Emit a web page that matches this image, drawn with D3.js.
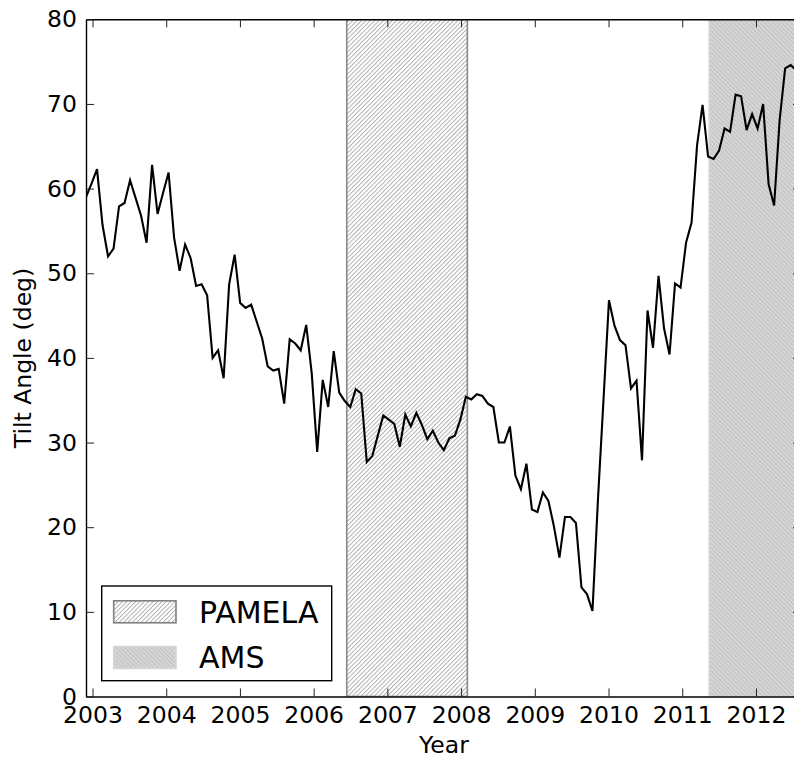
<!DOCTYPE html>
<html>
<head>
<meta charset="utf-8">
<script src="https://cdn.jsdelivr.net/npm/d3@7"></script>
<style>
  body { margin: 0; background: #fff; }
  svg { font-family: 'DejaVu Sans', sans-serif; display: block; }
</style>
</head>
<body>
<div id="chart"></div>
<script>
// tilt angle per Carrington rotation, starting Dec 2002
var startYear = 2002.912;
var rotationYears = 27.2753 / 365.25;
var tilt = [
    59.0, 60.6, 62.3, 55.7, 52.0, 52.9, 57.9, 58.3, 61.0, 58.9,
    56.8, 53.6, 62.8, 57.0, 59.5, 61.9, 54.2, 50.3, 53.4, 51.8,
    48.5, 48.7, 47.4, 40.0, 40.9, 37.6, 48.7, 52.2, 46.5, 45.9,
    46.3, 44.3, 42.3, 39.0, 38.5, 38.7, 34.6, 42.2, 41.7, 40.9,
    43.9, 38.2, 28.9, 37.4, 34.2, 40.8, 35.9, 34.9, 34.2, 36.3,
    35.8, 27.7, 28.4, 30.8, 33.2, 32.7, 32.2, 29.5, 33.3, 31.9,
    33.5, 32.1, 30.4, 31.4, 30.0, 29.1, 30.5, 30.8, 32.7, 35.4,
    35.1, 35.7, 35.5, 34.6, 34.2, 30.0, 30.0, 31.9, 26.1, 24.5,
    27.5, 22.1, 21.8, 24.1, 23.1, 20.1, 16.4, 21.2, 21.2, 20.5,
    12.9, 12.1, 10.1, 23.3, 35.0, 46.8, 43.8, 42.1, 41.5, 36.4,
    37.3, 27.9, 45.6, 41.2, 49.7, 43.5, 40.4, 48.8, 48.3, 53.6,
    56.0, 65.1, 69.9, 63.8, 63.5, 64.5, 67.1, 66.7, 71.1, 70.9,
    66.9, 68.8, 67.1, 70.0, 60.5, 58.0, 68.1, 74.2, 74.6, 74.0
];

// missions shown as shaded periods
var missionNames = ['PAMELA', 'AMS'];
var missionStart = [2006.449, 2011.365];
var missionEnd = [2008.085, 2012.611];

var yearTicks = [2003, 2004, 2005, 2006, 2007, 2008, 2009, 2010, 2011, 2012];
var angleTicks = [0, 10, 20, 30, 40, 50, 60, 70, 80];

var W = 794, H = 758;
var dim = {l: 86, r: 801, t: 19.3, b: 696.5};

var svg = d3.select('#chart').append('svg')
    .attr('width', W)
    .attr('height', H);

// hatch patterns
var defs = svg.append('defs');
function hatch(id, bg, fg, angle) {
    var p = defs.append('pattern')
        .attr('id', id)
        .attr('patternUnits', 'userSpaceOnUse')
        .attr('width', 3.1).attr('height', 3.1)
        .attr('patternTransform', 'rotate(' + angle + ')');
    p.append('rect').attr('width', 3.1).attr('height', 3.1).attr('fill', bg);
    p.append('line')
        .attr('x1', 0.5).attr('y1', 0).attr('x2', 0.5).attr('y2', 3.1)
        .attr('stroke', fg).attr('stroke-width', 0.8);
}
hatch('hatchP', '#ffffff', '#a0a0a0', 45);
hatch('hatchA', '#d6d6d6', '#bcbcbc', -45);
var fills = ['url(#hatchP)', 'url(#hatchA)'];
var edges = ['#888888', '#d6d6d6'];

defs.append('clipPath').attr('id', 'plotClip')
    .append('rect')
    .attr('x', dim.l).attr('y', dim.t)
    .attr('width', dim.r - dim.l).attr('height', dim.b - dim.t);

var x = d3.scaleLinear().domain([2002.9118, 2012.611]).range([dim.l, dim.r]);
var y = d3.scaleLinear().domain([0, 80]).range([dim.b, dim.t]);

var plot = svg.append('g').attr('clip-path', 'url(#plotClip)');

// mission bands
plot.selectAll('.band').data(missionNames).enter()
    .append('rect').attr('class', 'band')
    .attr('x', function(d, i) { return x(missionStart[i]); })
    .attr('y', dim.t)
    .attr('width', function(d, i) { return x(missionEnd[i]) - x(missionStart[i]); })
    .attr('height', dim.b - dim.t)
    .attr('fill', function(d, i) { return fills[i]; })
    .attr('stroke', function(d, i) { return edges[i]; })
    .attr('stroke-width', 1.6);

// tilt angle line
var line = d3.line()
    .x(function(d, i) { return x(startYear + i * rotationYears); })
    .y(function(d) { return y(d); });

plot.append('path').datum(tilt)
    .attr('d', line)
    .attr('fill', 'none')
    .attr('stroke', '#000')
    .attr('stroke-width', 2.1)
    .attr('stroke-linejoin', 'miter');

// axes, ticks pointing inwards
function styleAxis(g) {
    g.select('.domain').attr('stroke', '#000').attr('stroke-width', 1.4);
    g.selectAll('.tick line').attr('stroke', '#222').attr('stroke-width', 1);
    g.selectAll('.tick text')
        .attr('fill', '#000')
        .style('font-size', '23.5px')
        .style('font-family', "'DejaVu Sans', sans-serif");
}

svg.append('g')
    .attr('transform', 'translate(0,' + dim.b + ')')
    .call(d3.axisBottom(x).tickValues(yearTicks).tickFormat(d3.format('d'))
        .tickSizeInner(-8).tickSizeOuter(0).tickPadding(10.3))
    .call(styleAxis);

svg.append('g')
    .attr('transform', 'translate(0,' + dim.t + ')')
    .call(d3.axisTop(x).tickValues(yearTicks).tickFormat('')
        .tickSizeInner(-8).tickSizeOuter(0))
    .call(styleAxis);

svg.append('g')
    .attr('transform', 'translate(' + dim.l + ',0)')
    .call(d3.axisLeft(y).tickValues(angleTicks).tickFormat(d3.format('d'))
        .tickSizeInner(-8).tickSizeOuter(0).tickPadding(9))
    .call(styleAxis);

svg.append('g')
    .attr('transform', 'translate(' + dim.r + ',0)')
    .call(d3.axisRight(y).tickValues(angleTicks).tickFormat('')
        .tickSizeInner(-8).tickSizeOuter(0))
    .call(styleAxis);

// axis titles
svg.append('text')
    .attr('x', 444).attr('y', 752.7)
    .attr('text-anchor', 'middle')
    .style('font-size', '23.5px')
    .text('Year');

svg.append('text')
    .attr('transform', 'translate(31,358) rotate(-90)')
    .attr('text-anchor', 'middle')
    .style('font-size', '23.5px')
    .text('Tilt Angle (deg)');

// legend
var legend = svg.append('g');
legend.append('rect')
    .attr('x', 101.7).attr('y', 586)
    .attr('width', 230).attr('height', 94.7)
    .attr('fill', '#fff')
    .attr('stroke', '#000')
    .attr('stroke-width', 1.4);

var items = legend.selectAll('.item').data(missionNames).enter()
    .append('g').attr('class', 'item')
    .attr('transform', function(d, i) { return 'translate(0,' + (i * 45.7) + ')'; });

items.append('rect')
    .attr('x', 113.7).attr('y', 600.8)
    .attr('width', 62.3).attr('height', 22)
    .attr('fill', function(d, i) { return fills[i]; })
    .attr('stroke', function(d, i) { return i === 0 ? '#808080' : '#d6d6d6'; })
    .attr('stroke-width', 1.6);

items.append('text')
    .attr('x', 199).attr('y', 622.7)
    .style('font-size', '30px')
    .text(function(d) { return d; });
</script>
</body>
</html>
